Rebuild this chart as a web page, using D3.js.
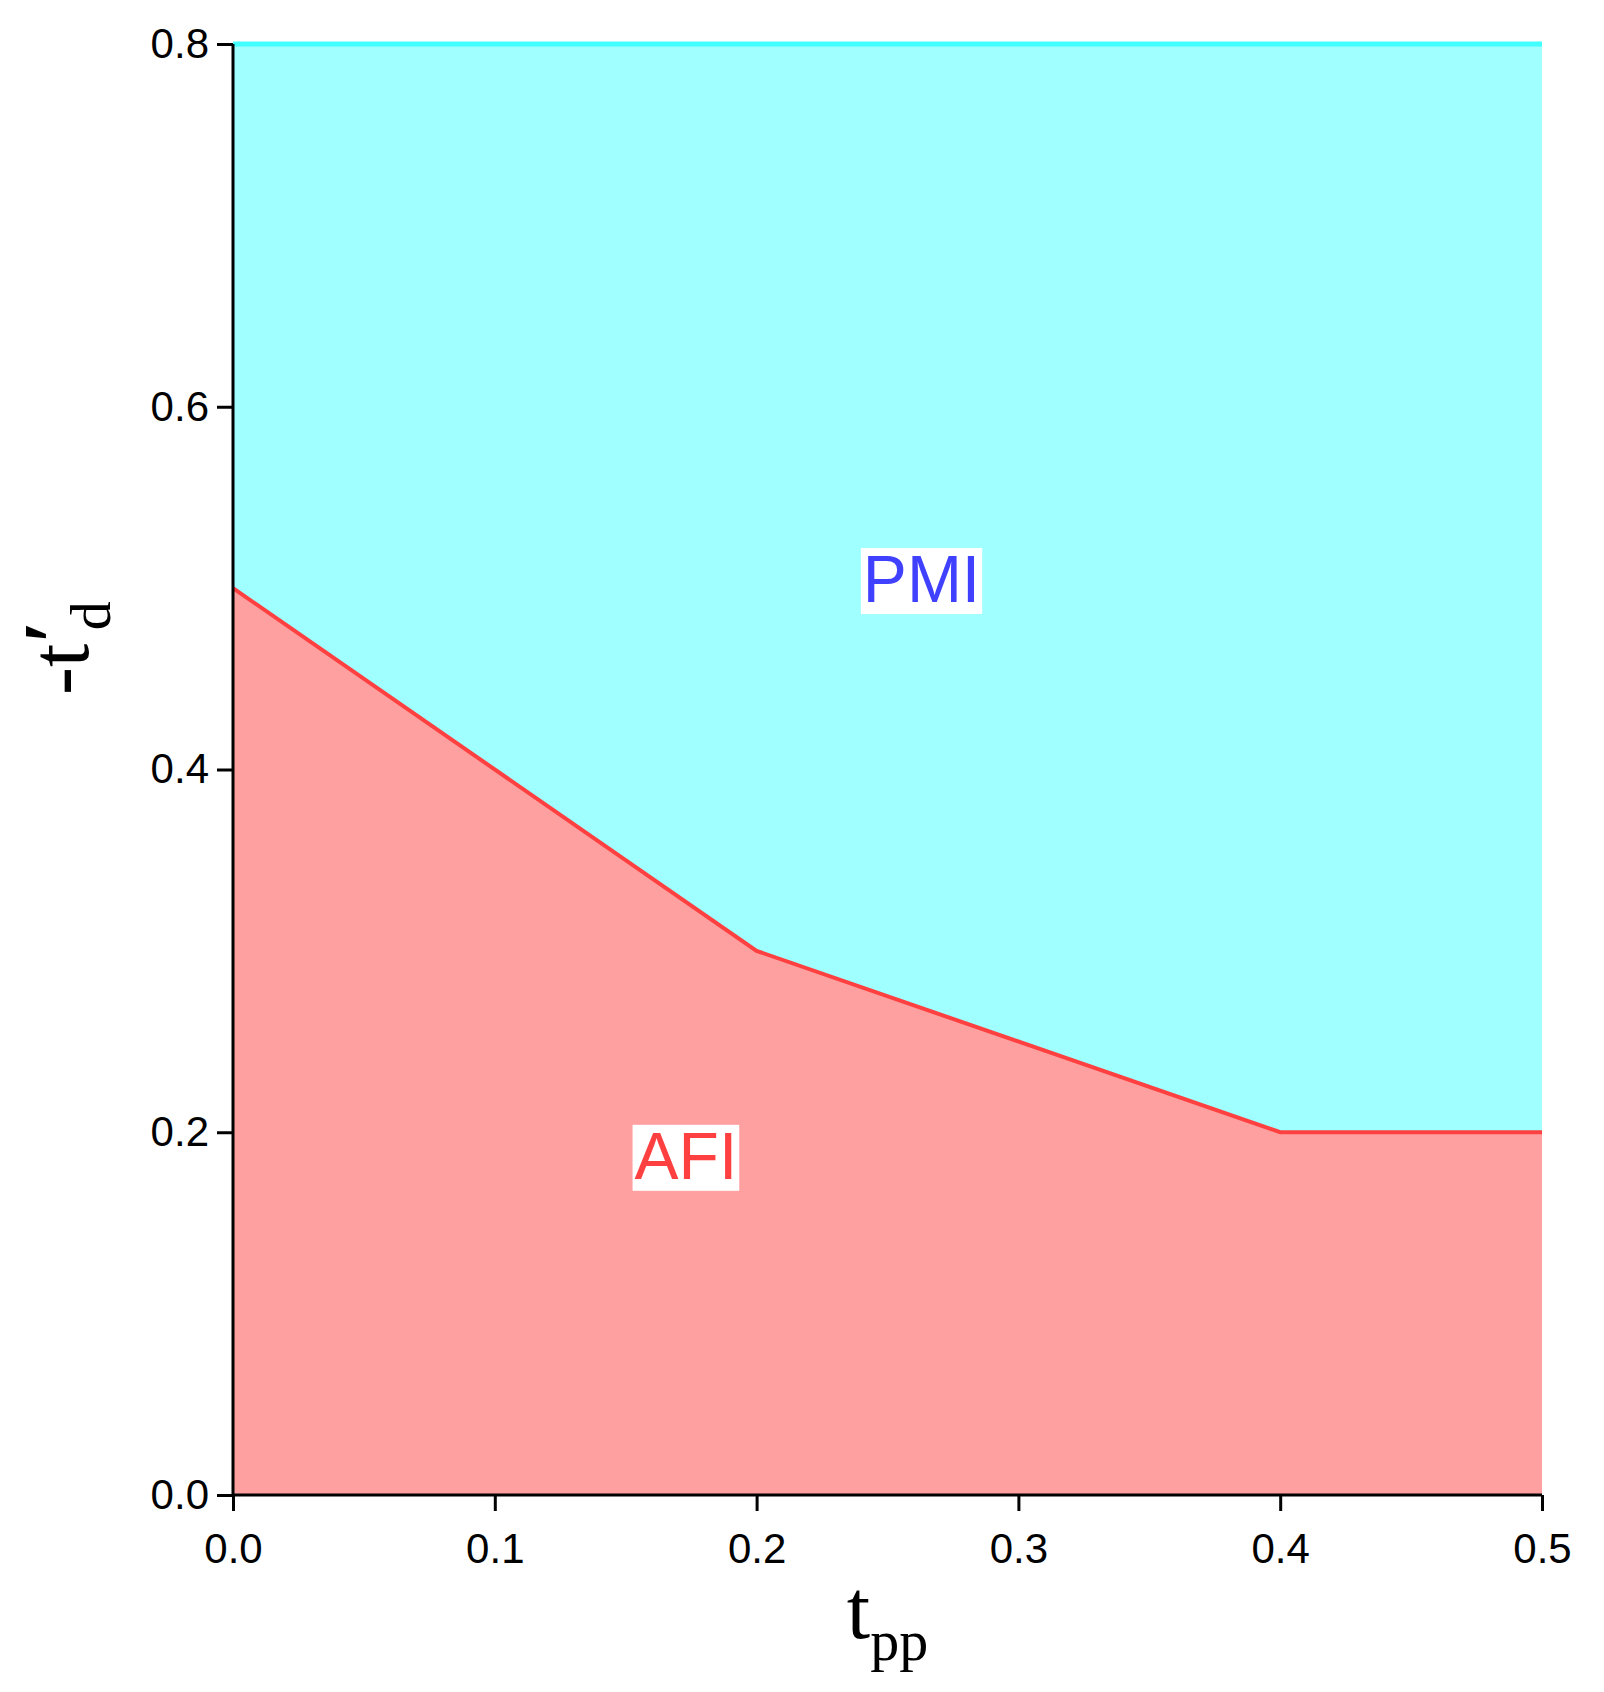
<!DOCTYPE html>
<html><head><meta charset="utf-8">
<script src="https://cdn.jsdelivr.net/npm/d3@7"></script>
<style>body{margin:0;background:#fff}</style>
</head><body>
<script>
// phase boundary between AFI and PMI
const tpp = [0.0, 0.2, 0.4, 0.5];
const tdBoundary = [0.5, 0.3, 0.2, 0.2];
const xTicks = [0, 0.1, 0.2, 0.3, 0.4, 0.5];
const yTicks = [0, 0.2, 0.4, 0.6, 0.8];

const width = 1604, height = 1692;
const m = {left: 233, right: 1542, top: 44, bottom: 1495};

const x = d3.scaleLinear().domain([0, 0.5]).range([m.left, m.right]);
const y = d3.scaleLinear().domain([0, 0.8]).range([m.bottom, m.top]);

const svg = d3.select("body").append("svg")
    .attr("width", width).attr("height", height);

const pts = tpp.map((t, i) => [t, tdBoundary[i]]);

// PMI region (above)
svg.append("path")
    .attr("fill", "#a0ffff")
    .attr("d", d3.area().x(d => x(d[0])).y0(y(0.8)).y1(d => y(d[1]))(pts));
// AFI region (below)
svg.append("path")
    .attr("fill", "#ffa0a0")
    .attr("d", d3.area().x(d => x(d[0])).y0(y(0)).y1(d => y(d[1]))(pts));

svg.append("line")
    .attr("x1", x(0)).attr("x2", x(0.5)).attr("y1", y(0.8)).attr("y2", y(0.8))
    .attr("stroke", "#40ffff").attr("stroke-width", 5);

svg.append("path")
    .attr("fill", "none").attr("stroke", "#ff4040").attr("stroke-width", 4)
    .attr("d", d3.line().x(d => x(d[0])).y(d => y(d[1]))(pts));

const tickFont = "'Liberation Sans', Arial, sans-serif";

const xAxis = svg.append("g")
    .attr("transform", `translate(0,${m.bottom})`)
    .call(d3.axisBottom(x).tickValues(xTicks).tickFormat(d3.format(".1f")).tickSize(16).tickPadding(22));
const yAxis = svg.append("g")
    .attr("transform", `translate(${m.left},0)`)
    .call(d3.axisLeft(y).tickValues(yTicks).tickFormat(d3.format(".1f")).tickSize(16).tickPadding(8));

[xAxis, yAxis].forEach(g => {
    g.selectAll("line").attr("stroke", "#000").attr("stroke-width", 3);
    g.select(".domain").attr("stroke", "#000").attr("stroke-width", 3);
    g.selectAll("text").attr("font-family", tickFont).attr("font-size", 42).attr("fill", "#000");
});
yAxis.select(".domain").attr("d", `M0,${m.bottom}V${m.top}`);
xAxis.select(".domain").attr("d", `M${m.left},0H${m.right}`);

// phase labels with white background
function label(txt, cx, cy, color) {
    const t = svg.append("text")
        .attr("x", cx).attr("y", cy)
        .attr("text-anchor", "middle").attr("dominant-baseline", "central")
        .attr("font-family", tickFont).attr("font-size", 66)
        .attr("fill", color).text(txt);
    const b = t.node().getBBox();
    svg.insert("rect", () => t.node())
        .attr("x", b.x - 2).attr("y", b.y + 6).attr("width", b.width + 4).attr("height", b.height - 8)
        .attr("fill", "#fff");
}
label("PMI", x(0.263), y(0.505), "#4040ff");
label("AFI", x(0.173), y(0.187), "#ff4040");

// axis titles
const serif = "'Liberation Serif', 'Times New Roman', serif";
const xt = svg.append("text")
    .attr("x", x(0.25)).attr("y", 1638)
    .attr("text-anchor", "middle").attr("font-family", serif).attr("font-size", 84);
xt.append("tspan").text("t");
xt.append("tspan").attr("font-size", 58).attr("dy", 22).text("pp");

const yt = svg.append("text")
    .attr("transform", `translate(88,${y(0.5) + 60}) rotate(-90)`)
    .attr("text-anchor", "middle").attr("font-family", serif).attr("font-size", 84);
yt.append("tspan").text("-t");
yt.append("tspan").attr("font-weight", "bold").attr("dy", -6).text("\u2032");
yt.append("tspan").attr("font-size", 58).attr("dy", 28).attr("dx", -10).text("d");
</script>
</body></html>
